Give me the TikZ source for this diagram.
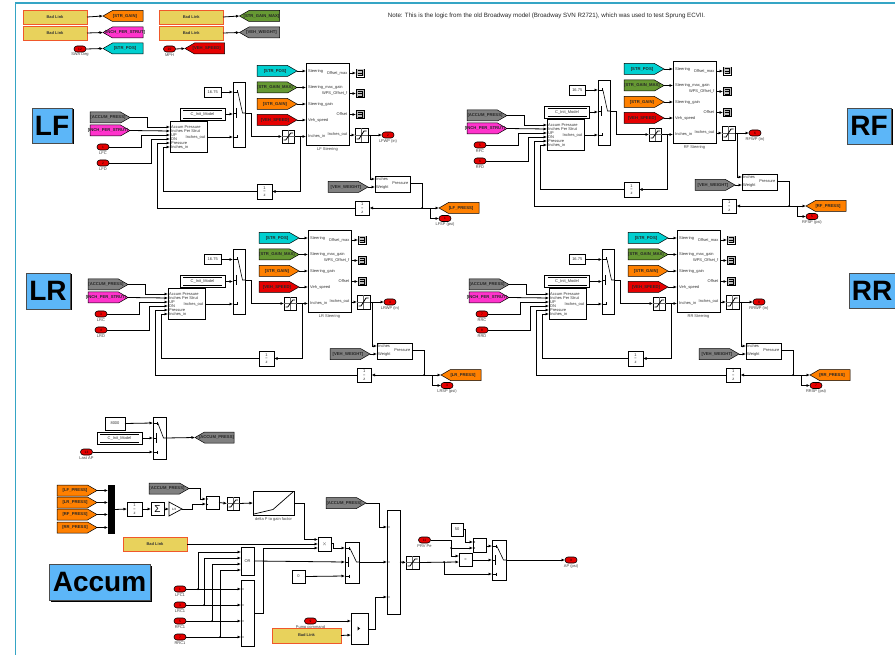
\documentclass[tikz,border=0pt]{standalone}
\usepackage{fontspec}
\setmainfont{Liberation Sans}
\usetikzlibrary{arrows.meta,shapes.symbols,shapes.misc}
\definecolor{frameblue}{HTML}{35A5C5}
\definecolor{tagorange}{HTML}{FF8000}
\definecolor{tagcyan}{HTML}{00D0D0}
\definecolor{taggreen}{HTML}{669933}
\definecolor{tagred}{HTML}{E60000}
\definecolor{tagmag}{HTML}{FF33CC}
\definecolor{taggray}{HTML}{808080}
\definecolor{badyellow}{HTML}{E8D25C}
\definecolor{badred}{HTML}{F0582A}
\definecolor{badgeblue}{HTML}{5CB6F8}
\newcommand\fport{\fontsize{4}{5}\selectfont}
\newcommand\ftag{\fontsize{4.2}{5}\selectfont\bfseries}
\tikzset{
  wire/.style={line width=.8pt,-{Latex[length=3.5pt,width=3pt]}},
  plainwire/.style={line width=.8pt},
  blk/.style={rectangle,draw=black,line width=.8pt,fill=white,inner sep=0pt,outer sep=0pt,font=\fport,text=black!80,align=center},
  portlabel/.style={inner sep=0pt,font=\fport,text=black!80},
  caption/.style={inner sep=0pt,font=\fport,text=black!75},
  pilltag/.style={rounded rectangle,draw=black,line width=.6pt,fill=tagred,inner sep=0pt,outer sep=0pt,minimum width=12pt,minimum height=6pt,font=\fontsize{3.2}{4}\selectfont,text=black},
  gotag/.style={signal,draw=black,line width=.5pt,inner sep=0pt,outer sep=0pt,minimum height=11pt,signal pointer angle=60},
  tagtext/.style={inner sep=0pt,font=\ftag,text=black!85},
  badlink/.style={rectangle,draw=badred,line width=.8pt,fill=badyellow,inner sep=0pt,outer sep=0pt,font=\fport\bfseries,text=black!80},
  badge/.style={rectangle,draw=black!70,line width=.7pt,fill=badgeblue,inner sep=0pt,outer sep=0pt,font=\fontsize{28}{28}\selectfont\bfseries,text=black},
  icon/.style={line width=.8pt,black},
  thinicon/.style={line width=.4pt,black!60}
}
% generic block
\newcommand\Blk[6]{\node[blk,minimum width={(#4-(#2))*1pt},minimum height={(#5-(#3))*1pt}] (#1) at ({(#2+#4)/2},{(#3+#5)/2}) {#6};}
% tags: the outline is a node, its text a node on top so that long names may overrun it
\newcommand\TagR[6]{\node[gotag,signal to=east,fill=#5,anchor=west,minimum width={(#3-(#2))*1pt}] (#1) at (#2,#4) {};
  \node[tagtext] (#1-txt) at ({(#2+#3)/2-2},#4) {#6};}
\newcommand\TagL[6]{\node[gotag,signal to=west,fill=#5,anchor=east,minimum width={(#3-(#2))*1pt}] (#1) at (#3,#4) {};
  \node[tagtext] (#1-txt) at ({(#2+#3)/2+2},#4) {#6};}
% inport/outport pill with caption
\newcommand\Pill[5]{\node[pilltag] (#1) at (#2,#3) {#4};\node[caption] (#1-cap) at (#2,{#3+6}) {#5};}
% bad link
\newcommand\Bad[5]{\node[badlink,minimum width={(#4-(#2))*1pt},minimum height={(#5-(#3))*1pt}] (#1) at ({(#2+#4)/2},{(#3+#5)/2}) {Bad Link};}
% saturation
\newcommand\Sat[5]{\Blk{#1}{#2}{#3}{#4}{#5}{}
  \draw[thinicon] (#1.west) -- (#1.east) (#1.north) -- (#1.south);
  \draw[icon] ({#2+1.5},{#5-3}) -- ({(#2+#4)/2-2.5},{#5-3}) -- ({(#2+#4)/2+2.5},{#3+3}) -- ({#4-1.5},{#3+3});}
% unit delay
\newcommand\Uz[5]{\Blk{#1}{#2}{#3}{#4}{#5}{1\\[-1.4pt]\textbf{--}\\[-1.2pt]z}}
% switch: name x1 y1 x2 y2 yA yB yC
\newcommand\Sw[8]{\Blk{#1}{#2}{#3}{#4}{#5}{}
  \coordinate (#1-a) at (#2,#6);\coordinate (#1-b) at (#2,#7);\coordinate (#1-c) at (#2,#8);\coordinate (#1-o) at (#4,#7);
  \draw[icon] (#2,#6) -- ({#2+4.5},#6) ({#2+4.5},{#6-1.5}) -- ({#2+4.5},{#6+1.5});
  \draw[icon] (#2,#7) -- ({#2+3.5},#7);
  \draw[line width=1pt] ({#2+3.5},{#7-5}) -- ({#2+3.5},{#7+5});
  \draw[icon] (#2,#8) -- ({#2+4.5},#8) ({#2+4.5},{#8-1.5}) -- ({#2+4.5},{#8+1.5});
  \draw[line width=.6pt] ({#2+5},{#6+.5}) -- ({#4-2.5},#7) -- (#4,#7);}
% terminator
\newcommand\Term[4]{\Blk{#1}{#2}{#3}{#2+8}{#3+8}{}
  \fill[black!25] ({#2+.5},{#3+.5}) rectangle ({#2+7.5},{#3+7.5});
  \draw[line width=.6pt] ({#2+1.5},{#3+1.5}) -- ({#2+6},{#3+1.5}) -- ({#2+6},{#3+6.5}) -- ({#2+1.5},{#3+6.5})
     ({#2+1.5},{#3+4}) -- ({#2+6},{#3+4});}
% C_Init_Model subsystem
\newcommand\CInit[5]{\Blk{#1}{#2}{#3}{#4}{#5}{C\_Init\_Model}
  \draw[line width=.6pt] ({#2+3},{#3+2}) -- ({#4-3},{#3+2}) ({#2+3},{#5-2}) -- ({#4-3},{#5-2});}
% badge
\newcommand\Badge[6]{\fill[black] ({#2+1.5},{#3+1.5}) rectangle ({#4+1.5},{#5+1.5});
  \node[badge,minimum width={(#4-(#2))*1pt},minimum height={(#5-(#3))*1pt}] (#1) at ({(#2+#4)/2},{(#3+#5)/2}) {#6};}
% dot
\newcommand\Dot[1]{\fill (#1) circle (1pt);}
% one wheel unit: prefix c d wp sp  offsetA offsetC offsetS offsetR
\newcommand\Unit[9]{
\begin{scope}[shift={(#6)}]
  \TagR{#1acc}{90}{130}{117.5}{taggray}{[ACCUM\_PRESS]}
  \TagR{#1inch}{90}{130}{130.5}{tagmag}{[INCH\_PER\_STRUT]}
  \Pill{#1c}{103}{147}{#2}{#1C}
  \Pill{#1d}{103}{163}{#3}{#1D}
  \Blk{#1main}{170}{121}{207}{152}{}
  \node[portlabel,anchor=west] (#1l1) at (171,127) {Accum Pressure};
  \node[portlabel,anchor=west] (#1l2) at (171,131) {Inches Per Strut};
  \node[portlabel,anchor=west] (#1l3) at (171,135) {UP};
  \node[portlabel,anchor=west] (#1l4) at (171,139) {DN};
  \node[portlabel,anchor=west] (#1l5) at (171,143) {Pressure};
  \node[portlabel,anchor=west] (#1l6) at (171,147) {Inches\_in};
  \node[portlabel,anchor=east] (#1lo) at (205.5,137) {Inches\_out};
  \coordinate (#1i1) at (170,127);\coordinate (#1i2) at (170,131);\coordinate (#1i3) at (170,135);
  \coordinate (#1i4) at (170,139);\coordinate (#1i5) at (170,143);\coordinate (#1i6) at (170,147);
  \coordinate (#1mo) at (207,137);
  \coordinate (#1x1) at (147,127);\coordinate (#1x3) at (141,135);\coordinate (#1x4) at (151,139);
  \coordinate (#1x5) at (157,143);\coordinate (#1x6) at (163,147);
\end{scope}
\begin{scope}[shift={(#7)}]
  \Blk{#1k}{204.5}{87}{221}{97}{16.75}
  \CInit{#1ci}{180}{108}{225}{120}
\end{scope}
\begin{scope}[shift={(#8)}]
  \Sw{#1s}{233}{82}{245}{147}{92}{113}{137}
  \coordinate (#1j1) at (251,136.5);
\end{scope}
\begin{scope}[shift={(#9)}]
  \TagR{#1t1}{257}{297}{71}{tagcyan}{[STR\_POS]}
  \TagR{#1t2}{257}{297}{87.5}{taggreen}{[STR\_GAIN\_MAX]}
  \TagR{#1t3}{257}{297}{104}{tagorange}{[STR\_GAIN]}
  \TagR{#1t4}{257}{297}{120}{tagred}{[VEH\_SPEED]}
  \Blk{#1st}{306}{63}{349}{145}{}
  \node[caption] (#1stc) at (327.5,149) {#1 Steering};
  \node[portlabel,anchor=west] (#1q1) at (308,71) {Steering};
  \node[portlabel,anchor=west] (#1q2) at (308,87.5) {Steering\_max\_gain};
  \node[portlabel,anchor=west] (#1q3) at (308,104) {Steering\_gain};
  \node[portlabel,anchor=west] (#1q4) at (308,120) {Veh\_speed};
  \node[portlabel,anchor=west] (#1q5) at (308,136.5) {Inches\_in};
  \node[portlabel,anchor=east] (#1r1) at (347.5,73) {Offset\_max};
  \node[portlabel,anchor=east] (#1r2) at (347.5,93.5) {WPS\_Offset\_f};
  \node[portlabel,anchor=east] (#1r3) at (347.5,114) {Offset};
  \node[portlabel,anchor=east] (#1r4) at (347.5,134.5) {Inches\_out};
  \coordinate (#1si1) at (306,71);\coordinate (#1si2) at (306,87.5);\coordinate (#1si3) at (306,104);
  \coordinate (#1si4) at (306,120);\coordinate (#1si5) at (306,136.5);
  \coordinate (#1so1) at (349,73);\coordinate (#1so2) at (349,93.5);\coordinate (#1so3) at (349,114.5);\coordinate (#1so4) at (349,135);
  \Term{#1e1}{356}{69}{}
  \Term{#1e2}{356}{89.5}{}
  \Term{#1e3}{356}{110.5}{}
  \coordinate (#1ei1) at (356,73);\coordinate (#1ei2) at (356,93.5);\coordinate (#1ei3) at (356,114.5);
  \Sat{#1satout}{355}{128}{368}{142}
  \Sat{#1satin}{282}{130}{294.5}{143}
  \Pill{#1wp}{388}{135}{#4}{#1WP (in)}
  \Pill{#1sp}{445}{218.5}{#5}{#1SP (psi)}
  \Blk{#1pb}{375}{176}{410}{192}{}
  \node[portlabel,anchor=west] (#1p1) at (376,179) {Inches};
  \node[portlabel,anchor=west] (#1p2) at (376,187) {Weight};
  \node[portlabel,anchor=east] (#1p3) at (408.5,183) {Pressure};
  \coordinate (#1pi1) at (375,179);\coordinate (#1pi2) at (375,187);\coordinate (#1po) at (410,183);
  \TagR{#1vw}{328}{368}{187}{taggray}{[VEH\_WEIGHT]}
  \TagL{#1pr}{439}{479}{208}{tagorange}{[#1\_PRESS]}
  \Uz{#1uz}{257}{184}{272}{199}
  \Uz{#1uy}{355}{201}{369.5}{215}
  \coordinate (#1j2) at (300,136.5);\coordinate (#1j3) at (422,208);\coordinate (#1j4) at (430,208);\coordinate (#1j5) at (370,135);
\end{scope}
% connectors
\draw[wire] (#1acc.east) -| (#1x1) -- (#1i1);
\draw[wire] (#1inch.east) -- (#1i2);
\draw[wire] (#1c.east) -| (#1x3) -- (#1i3);
\draw[wire] (#1d.east) -| (#1x4) -- (#1i4);
\draw[wire] (#1k.east) -- (#1k.east -| #1s-a);
\draw[wire] (#1ci.east) -- (#1ci.east -| #1s-b);
\draw[wire] (#1mo) -- (#1s-c);
\draw[plainwire] (#1s-o) -| (#1j1);
\draw[wire] (#1j1) -- (#1satin.west);
\draw[wire] (#1satin.east) -- (#1si5);
\draw[wire] (#1j2) |- (#1uz.east);
\draw[wire] (#1uz.west) -| (#1x6) -- (#1i6);
\draw[wire] (#1uy.west) -| (#1x5) -- (#1i5);
\draw[wire] (#1t1.east) -- (#1si1);
\draw[wire] (#1t2.east) -- (#1si2);
\draw[wire] (#1t3.east) -- (#1si3);
\draw[wire] (#1t4.east) -- (#1si4);
\draw[wire] (#1so1) -- (#1ei1);
\draw[wire] (#1so2) -- (#1ei2);
\draw[wire] (#1so3) -- (#1ei3);
\draw[wire] (#1so4) -- (#1satout.west);
\draw[wire] (#1satout.east) -- (#1wp.west);
\draw[wire] (#1j5) |- (#1pi1);
\draw[wire] (#1vw.east) -- (#1pi2);
\draw[plainwire] (#1po) -| (#1j3);
\draw[wire] (#1j3) -- (#1pr.west);
\draw[wire] (#1j3) -- (#1uy.east);
\draw[wire] (#1j4) |- (#1sp.west);
\Dot{#1j3}
}
\begin{document}
\begin{tikzpicture}[x=1pt,y=-1pt]
\useasboundingbox (0,0) rectangle (895,655);
\clip (0,0) rectangle (895,655);
\fill[white] (0,0) rectangle (895,655);
\draw[frameblue,line width=1.7pt] (895,3) -- (15.5,3) -- (15.5,655);
\node[inner sep=0pt,font=\fontsize{6.2}{7}\selectfont,text=black!85] (note) at (546.5,16) {Note: This is the logic from the old Broadway model (Broadway SVN R2721), which was used to test Sprung ECVII.};
% top row
\Bad{b1}{23}{10}{87}{24}
\Bad{b2}{23}{26}{87}{40}
\Bad{b3}{159.5}{10}{223}{24}
\Bad{b4}{159.5}{26}{223}{40}
\TagL{g1}{103}{143}{16}{tagorange}{[STR\_GAIN]}
\TagL{g2}{103}{143}{32.5}{tagmag}{[INCH\_PER\_STRUT]}
\TagL{g3}{103}{143}{48.5}{tagcyan}{[STR\_POS]}
\TagL{g4}{239.5}{279.5}{16}{taggreen}{[STR\_GAIN\_MAX]}
\TagL{g5}{239.5}{279.5}{32.5}{taggray}{[VEH\_WEIGHT]}
\TagL{g6}{185}{224.5}{48.5}{tagred}{[VEH\_SPEED]}
\Pill{swa}{80}{49}{12}{SWA Deg}
\Pill{mph}{169.5}{49}{10}{MPH}
\draw[wire] (b1.east) -- (g1.west);
\draw[wire] (b2.east) -- (g2.west);
\draw[wire] (b3.east) -- (g4.west);
\draw[wire] (b4.east) -- (g5.west);
\draw[wire] (swa.east) -- (g3.west);
\draw[wire] (mph.east) -- (g6.west);
% badges
\Badge{blf}{32}{108}{72}{143}{LF}
\Badge{brf}{847}{108}{891}{144}{RF}
\Badge{blr}{26}{273}{70}{309}{LR}
\Badge{brr}{849}{273}{895}{308}{RR}
\Badge{bac}{49}{564}{150}{600}{Accum}
% wheel units
\Unit{LF}{1}{2}{2}{1}{0,0}{0,0}{0,0}{0,0}
\Unit{RF}{5}{6}{6}{5}{377,-2}{364.5,-2}{365,-2}{367,-2}
\Unit{LR}{3}{4}{4}{3}{-2,167}{0,167.5}{0,167}{2,167}
\Unit{RR}{7}{8}{8}{7}{379,167}{364.5,167.5}{369,167}{371,167}
% accumulator pressure selection
\Blk{k8}{105}{417}{125}{430}{8000}
\CInit{ci8}{97}{432}{142}{444}
\Pill{lap}{86.5}{452}{13}{Last AP}
\Sw{swa1}{153}{417}{166}{459}{423}{438}{452}
\TagL{ap1}{195}{234}{437.5}{taggray}{[ACCUM\_PRESS]}
\draw[wire] (k8.east) -- (swa1-a);
\draw[wire] (ci8.east) -- (swa1-b);
\draw[wire] (lap.east) -- (swa1-c);
\draw[wire] (swa1-o) -- (ap1.west);
% accum section
\TagR{p1}{57}{97}{490.5}{tagorange}{[LF\_PRESS]}
\TagR{p2}{57}{97}{502.5}{tagorange}{[LR\_PRESS]}
\TagR{p3}{57}{97}{514.5}{tagorange}{[RF\_PRESS]}
\TagR{p4}{57}{97}{527.5}{tagorange}{[RR\_PRESS]}
\node[rectangle,fill=black,inner sep=0pt,outer sep=0pt,minimum width=7pt,minimum height=49pt] (mux) at (111.5,509.5) {};
\coordinate (m1) at (108,490.5);\coordinate (m2) at (108,502.5);\coordinate (m3) at (108,514.5);\coordinate (m4) at (108,527.5);
\Uz{auz}{127}{502}{142}{516}
\node[blk,minimum width=13pt,minimum height=13pt,font=\fontsize{10}{10}\selectfont,text=black] (sum) at (157.5,509) {Σ};
\draw[line width=.7pt,fill=white] (169,502) -- (182,509) -- (169,516) -- cycle;
\node[portlabel,font=\fontsize{3.2}{4}\selectfont] (gain) at (174,509) {1/4};
\coordinate (gi) at (169,509);\coordinate (go) at (182,509);\coordinate (gk) at (192,504);
\Blk{dif}{206}{496}{219}{509}{}
\coordinate (di1) at (206,499);\coordinate (di2) at (206,504);
\fill (207.5,499) circle (.6pt) (207.5,504.5) circle (.6pt);
\TagR{ap2}{149}{189}{488.5}{taggray}{[ACCUM\_PRESS]}
\coordinate (ak) at (200,499);
\Sat{sat1}{227}{497}{239.5}{510}
\Blk{lut}{253}{491}{294}{515}{}
\draw[line width=.7pt] (254,514) -- (273,509.5) -- (293.5,491.5);
\node[caption] (lutc) at (273.5,519) {delta P to gain factor};
\draw[wire] (p1.east) -- (m1);
\draw[wire] (p2.east) -- (m2);
\draw[wire] (p3.east) -- (m3);
\draw[wire] (p4.east) -- (m4);
\draw[wire] (mux.east) -- (auz.west);
\draw[wire] (auz.east) -- (sum.west);
\draw[wire] (sum.east) -- (gi);
\draw[wire] (go) -| (gk) -- (di2);
\draw[wire] (ap2.east) -| (ak) -- (di1);
\draw[wire] (dif.east) -- (sat1.west);
\draw[wire] (sat1.east) -- (lut.west);
\Bad{b5}{123}{537}{187}{551}
\Blk{orb}{241}{547}{254}{575}{OR}
\Blk{low}{241}{580}{254}{646}{}
\Pill{c1}{180}{589}{1}{LFC1}
\Pill{c2}{180}{605}{3}{LRC1}
\Pill{c3}{180}{621}{5}{RFC1}
\Pill{c4}{180}{637}{7}{RRC1}
\coordinate (y1) at (198,589);\coordinate (y2) at (204,605);\coordinate (y3) at (212,621);\coordinate (y4) at (220,637);
\coordinate (oi1) at (241,552);\coordinate (oi2) at (241,558);\coordinate (oi3) at (241,564);\coordinate (oi4) at (241,570);
\coordinate (li1) at (241,589);\coordinate (li2) at (241,605);\coordinate (li3) at (241,621);\coordinate (li4) at (241,637);
\fill (243,589) circle (.6pt) (243,605) circle (.6pt) (243,621) circle (.6pt) (243,637) circle (.6pt);
\draw[wire] (c1.east) -- (li1);\draw[wire] (c2.east) -- (li2);\draw[wire] (c3.east) -- (li3);\draw[wire] (c4.east) -- (li4);
\draw[wire] (y1) |- (oi1);\draw[wire] (y2) |- (oi2);\draw[wire] (y3) |- (oi3);\draw[wire] (y4) |- (oi4);
\Dot{y1}\Dot{y2}\Dot{y3}\Dot{y4}
\Blk{prod}{318}{537}{331}{551}{$\times$}
\coordinate (pi1) at (318,539.5);\coordinate (pi2) at (318,544);\coordinate (pi3) at (318,548);\coordinate (po) at (331,543);
\coordinate (lk) at (304,539.5);\coordinate (lowo) at (254,613);\coordinate (lowk) at (263,548);\coordinate (pk) at (333.5,548);
\Sw{sw2}{345}{542}{359}{583}{548}{562}{576}
\Blk{zero}{292}{570}{305}{583}{0}
\TagR{ap3}{326}{366}{503}{taggray}{[ACCUM\_PRESS]}
\Blk{tall}{387}{510}{400}{614}{}
\coordinate (ti1) at (387,527);\coordinate (ti2) at (387,562);\coordinate (ti3) at (387,597);\coordinate (to) at (400,562);
\coordinate (tk) at (379,527);
\fill (389,527) circle (.6pt) (389,562) circle (.6pt) (389,597) circle (.6pt);
\Blk{lge}{351}{613}{368}{644}{}
\fill (357.5,626.5) -- (360,628.5) -- (357.5,630.5) -- cycle;
\coordinate (gi1) at (351,621);\coordinate (gi2) at (351,635);\coordinate (goo) at (368,629);\coordinate (gok) at (375,597);
\Pill{pump}{310.5}{621}{9}{Pump command}
\Bad{b6}{272}{628}{341}{643}
\Sat{sat2}{406}{556}{419}{569}
\Blk{sub}{459}{553}{472}{566}{=}
\coordinate (si1) at (459,556);\coordinate (si2) at (459,562);\coordinate (sso) at (472,560);
\coordinate (jn) at (444,562);\coordinate (jp) at (451,548);\coordinate (pk2) at (451,556);
\Pill{prv}{424.5}{540}{11}{PRV Pe}
\Blk{fif}{451}{523}{463}{536}{50}
\Blk{rel}{473}{538}{486}{552}{}
\coordinate (ri1) at (473,542);\coordinate (ri2) at (473,548);\coordinate (ro) at (486,546);\coordinate (fk) at (465,542);
\fill (474.5,542) circle (.6pt) (474.5,548) circle (.6pt);
\Sw{sw3}{492}{540}{506}{580}{546}{560}{574}
\Pill{apo}{571}{560}{9}{AP (psi)}
\draw[wire] (lut.east) -| (lk) -- (pi1);
\draw[wire] (b5.east) -- (pi2);
\draw[wire] (lowo) -| (lowk) -- (pi3);
\draw[wire] (po) -| (pk) -- (sw2-a);
\draw[wire] (orb.east) -- (sw2-b);
\draw[wire] (zero.east) -- (sw2-c);
\draw[wire] (sw2-o) -- (ti2);
\draw[wire] (ap3.east) -| (tk) -- (ti1);
\draw[wire] (goo) -| (gok) -- (ti3);
\draw[wire] (pump.east) -- (gi1);
\draw[wire] (b6.east) -- (gi2);
\draw[wire] (to) -- (sat2.west);
\draw[wire] (sat2.east) -- (si2);
\draw[wire] (jn) |- (sw3-c);
\Dot{jn}
\draw[wire] (prv.east) -| (pk2) -- (si1);
\draw[wire] (jp) -- (ri2);
\Dot{jp}
\draw[wire] (fif.east) -| (fk) -- (ri1);
\draw[wire] (ro) -- (sw3-a);
\draw[wire] (sso) -- (sw3-b);
\draw[wire] (sw3-o) -- (apo.west);
\end{tikzpicture}
\end{document}
